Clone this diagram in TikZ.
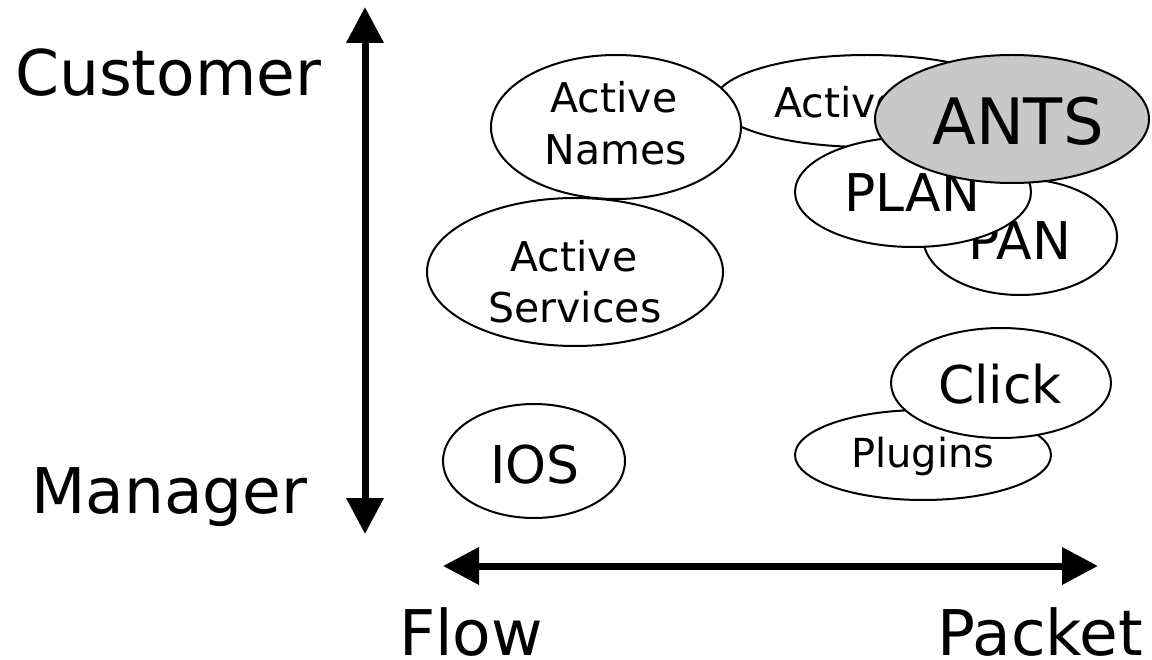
\documentclass[tikz,border=0pt]{standalone}
\usepackage{fontspec}
\setmainfont{DejaVu Sans}
\usetikzlibrary{arrows.meta,shapes.geometric}
\tikzset{
  bubble/.style={ellipse, draw=black, line width=2pt, fill=white, inner sep=0pt},
  txt/.style={anchor=base, inner sep=0pt},
  big/.style={font=\fontsize{63}{75}\selectfont},
  huge/.style={font=\fontsize{64}{77}\selectfont},
  mid/.style={font=\fontsize{52}{62}\selectfont},
  small/.style={font=\fontsize{41}{49}\selectfont},
  tiny/.style={font=\fontsize{40}{48}\selectfont},
  axis/.style={line width=7pt, {Triangle[length=36pt,width=36pt]}-{Triangle[length=36pt,width=36pt]}}
}
\begin{document}
\begin{tikzpicture}[x=1pt,y=-1pt]
\useasboundingbox (0,0) rectangle (1152,660);
% axes
\coordinate (vtop) at (365,7);
\coordinate (vbot) at (365,534);
\coordinate (hl) at (443,566);
\coordinate (hr) at (1098,566);
\draw[axis] (vtop) -- (vbot);
\draw[axis] (hl) -- (hr);
% axis labels
\node[txt, big, anchor=base west] (cust) at (15,96) {Customer};
\node[txt, big, anchor=base west] (mgr) at (31,513) {Manager};
\node[txt, big, anchor=base west] (flow) at (399,655) {Flow};
\node[txt, big, anchor=base west] (pkt) at (937,655) {Packet};
% Activ (hidden) ellipse
\node[bubble, minimum width=304pt, minimum height=92pt] (activ) at (867,101) {};
\node[txt, small, anchor=base west] (activT) at (774,118) {Active};
% Active Names
\node[bubble, minimum width=250pt, minimum height=144pt] (names) at (616,127) {};
\node[txt, small] (namesT1) at (614,113) {Active};
\node[txt, small] (namesT2) at (616,165) {Names};
% Active Services
\node[bubble, minimum width=296pt, minimum height=148pt] (serv) at (575,272) {};
\node[txt, small] (servT1) at (574,272) {Active};
\node[txt, small] (servT2) at (575,323) {Services};
% PAN
\node[bubble, minimum width=194pt, minimum height=116pt] (pan) at (1020,237) {};
\node[txt, mid] (panT) at (1020,260) {PAN};
% PLAN
\node[bubble, minimum width=236pt, minimum height=110pt] (plan) at (913,192) {};
\node[txt, mid] (planT) at (912,212) {PLAN};
% ANTS
\node[bubble, fill={rgb,255:red,200;green,200;blue,200}, minimum width=274pt, minimum height=128pt] (ants) at (1012,119) {};
\node[txt, huge] (antsT) at (1018,145) {ANTS};
% IOS
\node[bubble, minimum width=182pt, minimum height=114pt] (ios) at (534,461) {};
\node[txt, mid] (iosT) at (535,483) {IOS};
% Plugins
\node[bubble, minimum width=256pt, minimum height=90pt] (plug) at (923,455) {};
\node[txt, tiny] (plugT) at (923,467) {Plugins};
% Click
\node[bubble, minimum width=220pt, minimum height=110pt] (click) at (1001,383) {};
\node[txt, mid] (clickT) at (1000,403) {Click};
\end{tikzpicture}
\end{document}
